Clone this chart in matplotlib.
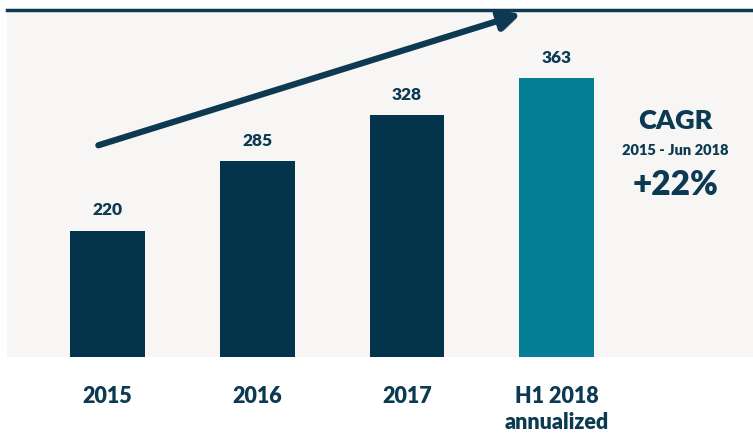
import matplotlib
matplotlib.use("Agg")
import matplotlib.pyplot as plt
import matplotlib.patheffects as pe

categories = ["2015", "2016", "2017", "H1 2018\nannualized"]
values = [220, 285, 328, 363]
colors = ["#04344c", "#04344c", "#04344c", "#047f96"]
text_color = "#0b3a52"

plt.rcParams['font.family'] = ['Lato', 'DejaVu Sans']
WEIGHT = "heavy"

fig = plt.figure(figsize=(7.53, 4.35), dpi=100)
W, H = 753, 435
ax = fig.add_axes([7 / W, 1 - 358 / H, 746 / W, 346 / H])
ax.set_facecolor("#f7f6f5")
x = list(range(len(categories)))
ax.bar(x, values, width=0.5, color=colors, zorder=2)
ax.set_xlim(-0.67, 4.31)
ax.set_ylim(102, 425.6)
for s in ax.spines.values():
    s.set_visible(False)
ax.set_yticks([])
ax.set_xticks(x)
ax.set_xticklabels(categories, fontsize=15.5, fontweight=WEIGHT, color=text_color,
                   linespacing=1.3, va="top")
ax.tick_params(axis="x", length=0, pad=20)

for xi, v in zip(x, values):
    ax.text(xi, v + 20, str(v), ha="center", va="center", fontsize=12.5,
            fontweight=WEIGHT, color=text_color)

# top rule
fig.add_artist(plt.Line2D([7 / W, 1], [1 - 11 / H, 1 - 11 / H], color="#0d3a52",
                          lw=2.5, transform=fig.transFigure))

# trend arrow
ax.annotate("", xy=(2.76, 423), xytext=(-0.06, 300),
            arrowprops=dict(arrowstyle="-|>,head_length=1.2,head_width=0.6",
                            lw=4.5, color="#0d3a52", shrinkA=0, shrinkB=0,
                            path_effects=[pe.SimplePatchShadow(offset=(2, -2), alpha=0.25),
                                          pe.Normal()]),
            zorder=3)

# CAGR block
ax.text(3.79, 324, "CAGR", ha="center", va="center", fontsize=19.5,
        fontweight=WEIGHT, color=text_color)
ax.text(3.79, 296, "2015 - Jun 2018", ha="center", va="center", fontsize=10.5,
        fontweight=WEIGHT, color=text_color)
ax.text(3.79, 264, "+22%", ha="center", va="center", fontsize=24,
        fontweight=WEIGHT, color=text_color)

fig.savefig("out.png", dpi=100)
